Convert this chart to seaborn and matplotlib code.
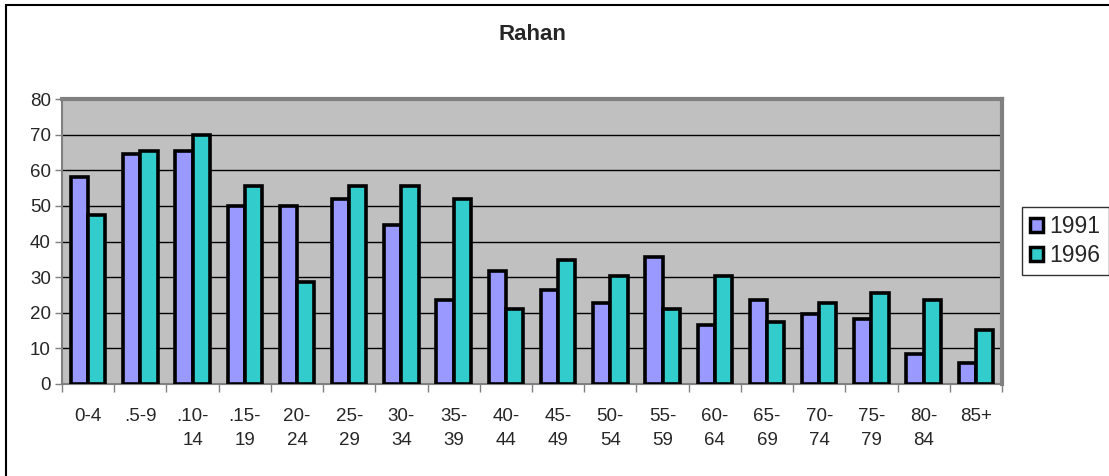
import matplotlib
matplotlib.use("Agg")
import matplotlib.pyplot as plt
from matplotlib.patches import Rectangle
import seaborn as sns
import pandas as pd
import numpy as np

age_groups = ["0-4", ".5-9", ".10-\n14", ".15-\n19", "20-\n24", "25-\n29", "30-\n34",
              "35-\n39", "40-\n44", "45-\n49", "50-\n54", "55-\n59", "60-\n64",
              "65-\n69", "70-\n74", "75-\n79", "80-\n84", "85+"]
pop_1991 = [58, 64.5, 65.5, 50, 50, 52, 44.5, 23.5, 31.7, 26.5, 22.7, 35.6, 16.5,
            23.5, 19.7, 18.2, 8.4, 6]
pop_1996 = [47.5, 65.5, 70, 55.5, 28.7, 55.5, 55.5, 52, 21, 34.7, 30.2, 21, 30.2,
            17.4, 22.7, 25.6, 23.5, 15.2]
years = ["1991", "1996"]
colors = {"1991": "#9999FF", "1996": "#33CCCC"}

df = pd.DataFrame({
    "age": age_groups * 2,
    "value": pop_1991 + pop_1996,
    "year": [years[0]] * len(age_groups) + [years[1]] * len(age_groups),
})

sns.set_style("white")
plt.rcParams["font.family"] = ["Liberation Sans", "DejaVu Sans"]

fig = plt.figure(figsize=(11.09, 4.76), dpi=100)
ax = fig.add_axes([62 / 1109, 1 - 384 / 476, 940 / 1109, 285 / 476])
ax.set_facecolor("#C0C0C0")

sns.barplot(data=df, x="age", y="value", hue="year", palette=colors,
            saturation=1, width=0.66, edgecolor="black", linewidth=2.6,
            ax=ax, zorder=3)

ax.set_ylim(0, 80)
ax.set_xlim(-0.5, len(age_groups) - 0.5)
ax.set_yticks(np.arange(0, 81, 10))
ax.yaxis.grid(True, color="black", linewidth=1.0, zorder=0)
ax.set_axisbelow(True)
ax.set_xlabel("")
ax.set_ylabel("")

for side in ["left", "bottom"]:
    ax.spines[side].set_color("#808080")
    ax.spines[side].set_linewidth(1.5)
for side in ["top", "right"]:
    ax.spines[side].set_color("#808080")
    ax.spines[side].set_linewidth(3)

ax.tick_params(axis="y", direction="out", length=5, width=1, color="#808080",
               labelsize=13.5, pad=3, left=True)
ax.tick_params(axis="x", which="major", length=0, labelsize=13.5, pad=17)
ax.set_xticks(np.arange(-0.5, len(age_groups), 1.0), minor=True)
ax.tick_params(axis="x", which="minor", direction="out", length=6, width=1,
               color="#808080", bottom=True)
for lbl in ax.get_xticklabels():
    lbl.set_linespacing(1.6)
    lbl.set_verticalalignment("top")

ax.set_title("Rahan", fontsize=16, fontweight="bold", pad=0,
             y=1 + (99 - 33) / 285 - 0.025)

handles, labels = ax.get_legend_handles_labels()
leg = ax.legend(handles, labels, loc="center left",
                bbox_to_anchor=(1022 / 1109, 1 - 241 / 476),
                bbox_transform=fig.transFigure, fontsize=16.5, frameon=True,
                fancybox=False, edgecolor="black", handlelength=0.55,
                handleheight=0.55, handletextpad=0.3, borderpad=0.35,
                labelspacing=0.25, borderaxespad=0)
leg.get_frame().set_linewidth(1.0)
for h in leg.legend_handles:
    h.set_linewidth(2.5)
    h.set_edgecolor("black")

# outer chart frame
fig.patches.append(Rectangle((6 / 1109, -0.1), 1.2, 1.1 - 5 / 476,
                             transform=fig.transFigure, fill=False,
                             edgecolor="black", linewidth=1.5))

fig.savefig("out.png", dpi=100)
